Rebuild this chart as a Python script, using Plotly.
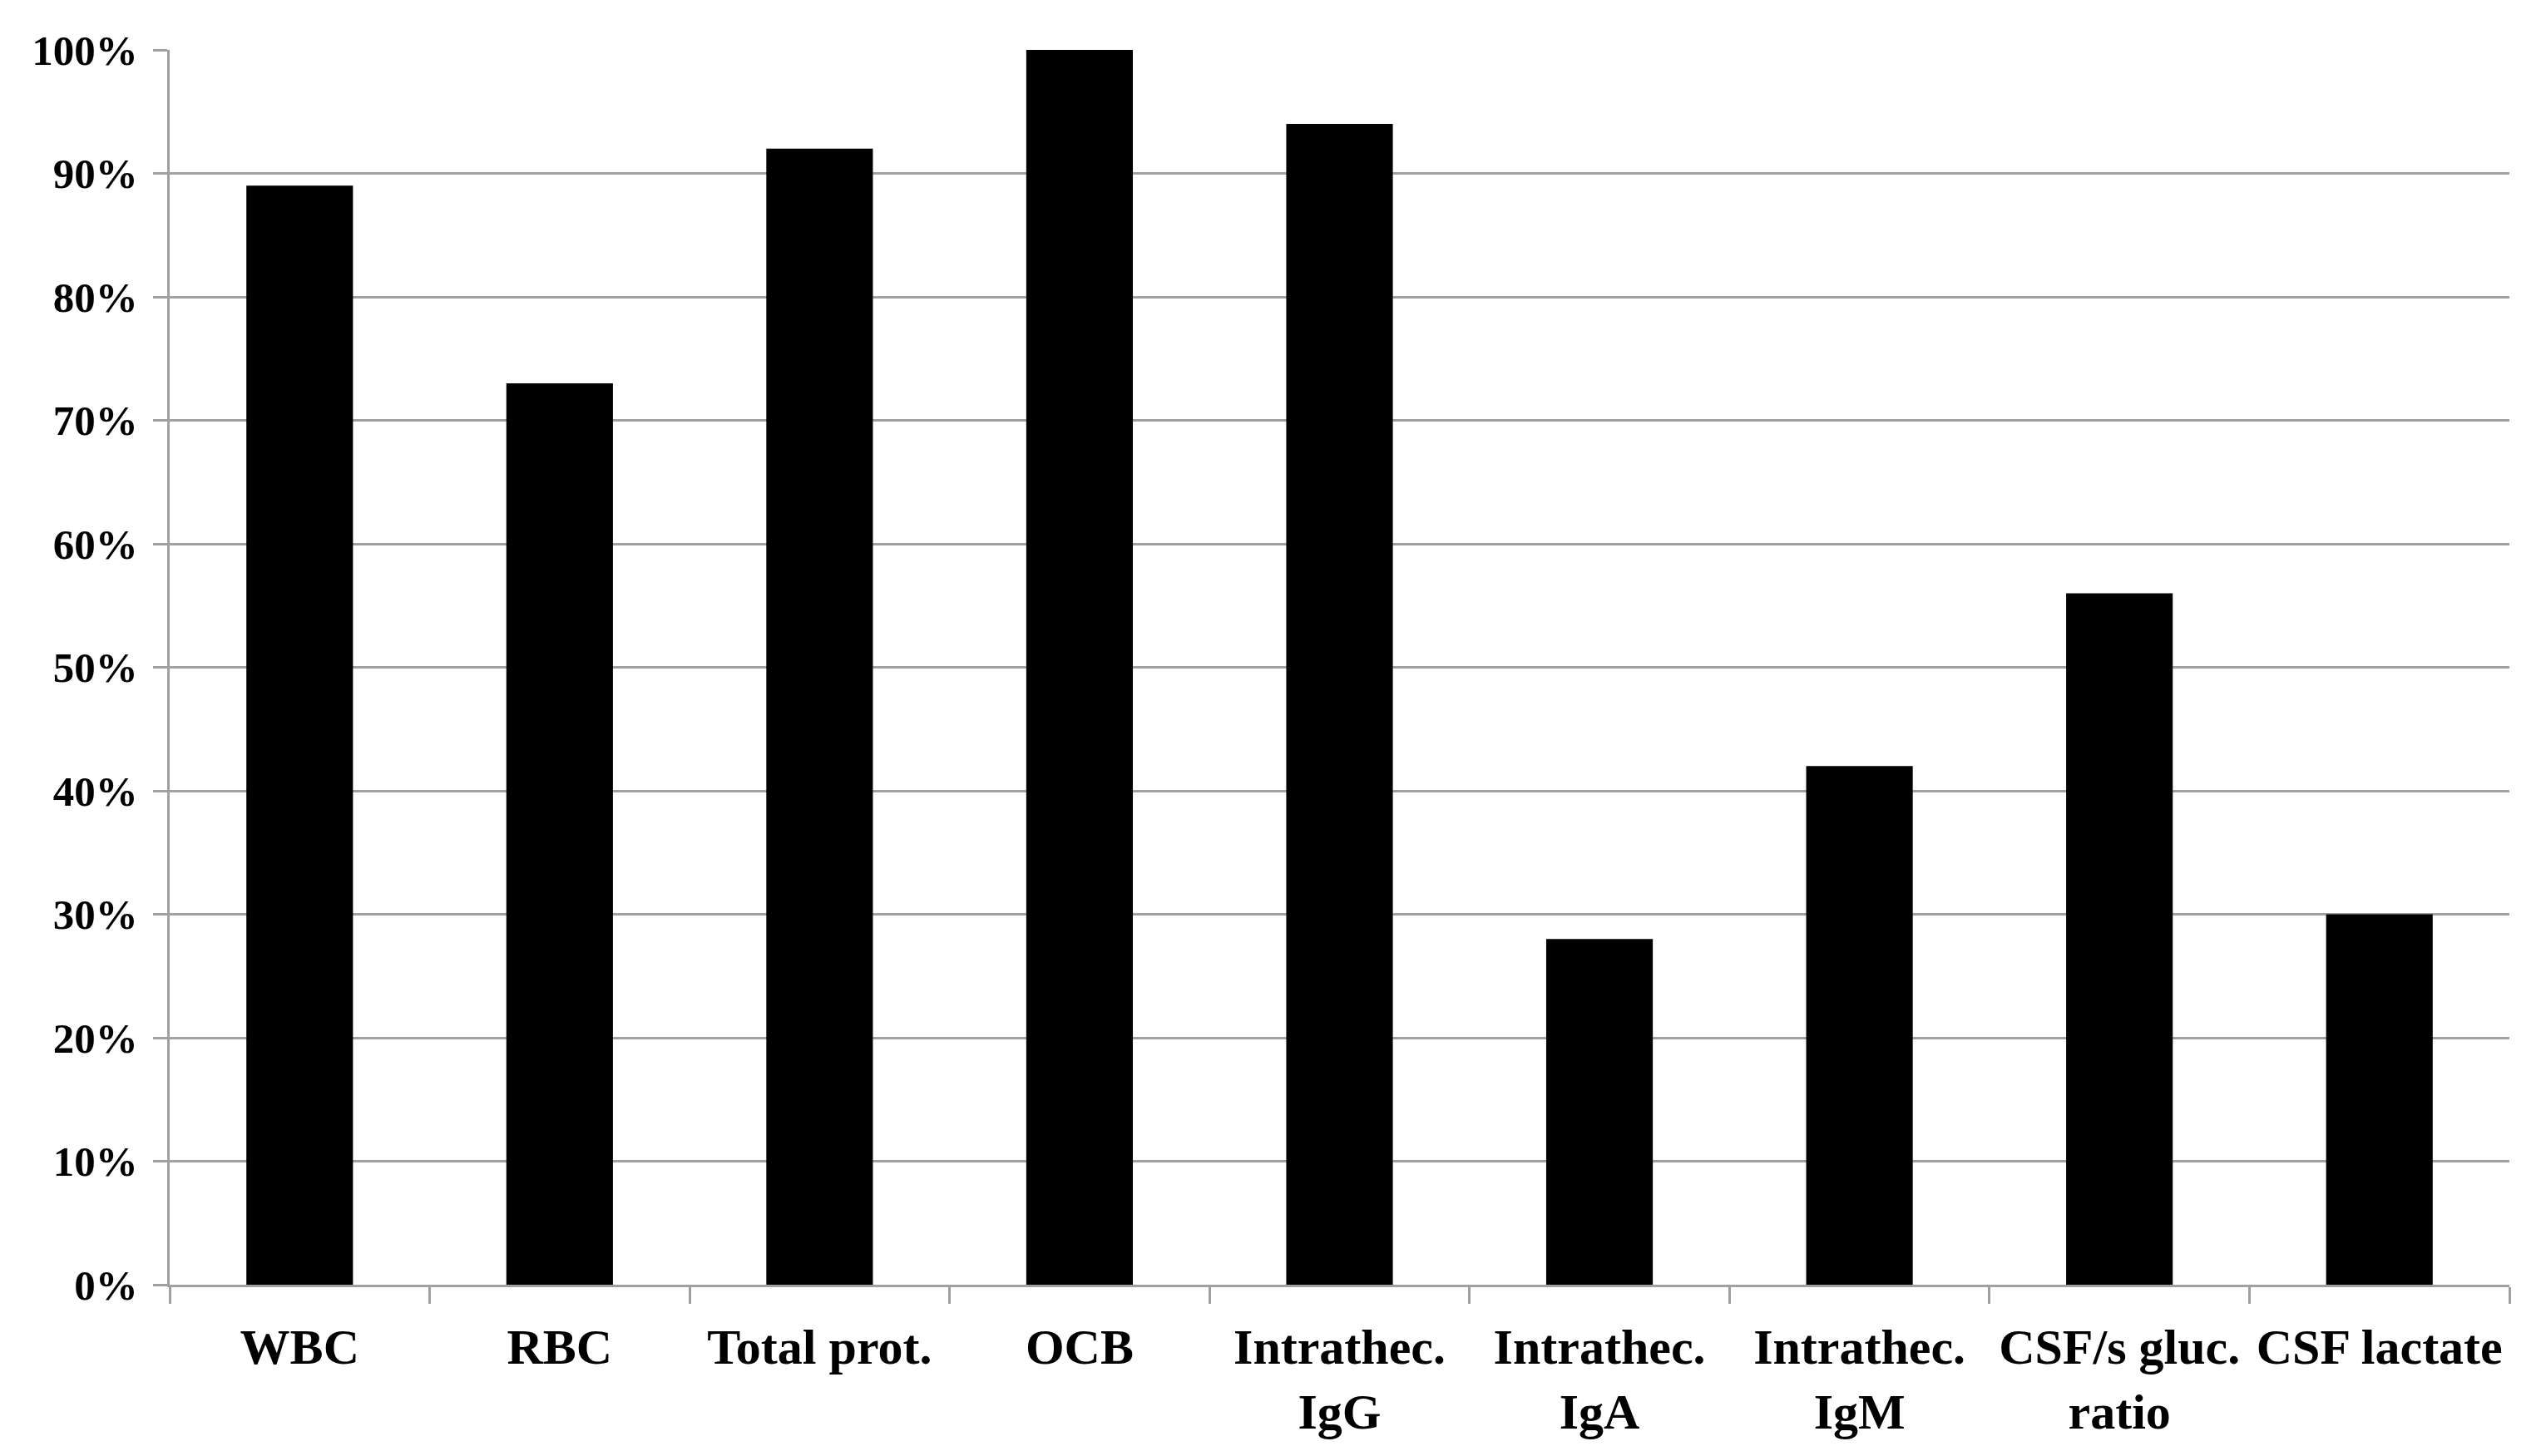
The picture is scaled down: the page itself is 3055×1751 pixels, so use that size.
import plotly.graph_objects as go

categories = ["WBC", "RBC", "Total prot.", "OCB", "Intrathec.<br>IgG", "Intrathec.<br>IgA",
              "Intrathec.<br>IgM", "CSF/s gluc.<br>ratio", "CSF lactate"]
values = [0.89, 0.73, 0.92, 1.00, 0.94, 0.28, 0.42, 0.56, 0.30]
y_ticks = [0, 0.1, 0.2, 0.3, 0.4, 0.5, 0.6, 0.7, 0.8, 0.9, 1.0]

fig = go.Figure()
fig.add_trace(go.Bar(x=categories, y=values, marker=dict(color="black", line=dict(width=0)),
                     width=0.41))

grey = "#a0a0a0"
fig.update_layout(
    width=3039, height=1735,
    margin=dict(l=196, r=30, t=52, b=189),
    paper_bgcolor="white", plot_bgcolor="white",
    showlegend=False,
    font=dict(family="Liberation Serif", color="black"),
)
fig.update_xaxes(
    type="category", tickangle=0, tickson="boundaries",
    ticks="outside", ticklen=20, tickwidth=3, tickcolor=grey,
    showline=True, linecolor=grey, linewidth=3,
    showgrid=False,
    tickfont=dict(family="Liberation Serif", size=60, color="black", weight="bold"),
    ticklabelstandoff=20,
)
fig.update_yaxes(
    range=[0, 1], tickvals=y_ticks, tickformat=".0%",
    ticks="outside", ticklen=17, tickwidth=3, tickcolor=grey,
    showline=True, linecolor=grey, linewidth=3,
    showgrid=True, gridcolor=grey, gridwidth=3,
    zeroline=False,
    tickfont=dict(family="Liberation Serif", size=51, color="black", weight="bold"),
    ticklabelstandoff=8,
)
fig.write_html("out.html")
